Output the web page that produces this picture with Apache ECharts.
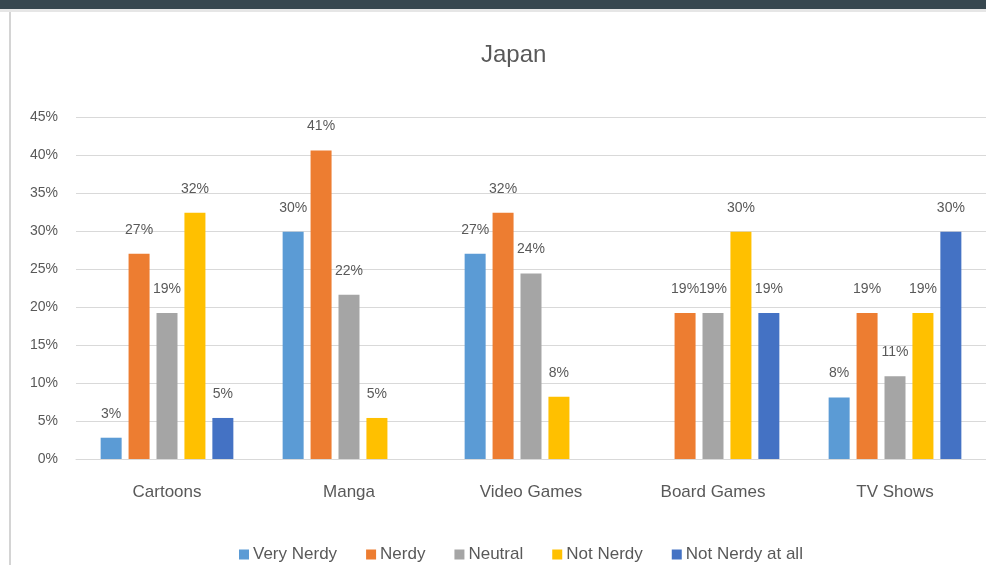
<!DOCTYPE html>
<html>
<head>
<meta charset="utf-8">
<script src="https://cdn.jsdelivr.net/npm/echarts@6/dist/echarts.min.js"></script>
<style>
  html, body { margin: 0; padding: 0; background: #fff; }
  #chart { width: 986px; height: 565px; }
</style>
</head>
<body>
<div id="chart"></div>
<script>
  // data (percent)
  const categories = ['Cartoons', 'Manga', 'Video Games', 'Board Games', 'TV Shows']
  const seriesNames = ['Very Nerdy', 'Nerdy', 'Neutral', 'Not Nerdy', 'Not Nerdy at all']
  const veryNerdy = [2.8, 29.9, 27.0, null, 8.1]
  const nerdy = [27.0, 40.6, 32.4, 19.2, 19.2]
  const neutral = [19.2, 21.6, 24.4, 19.2, 10.9]
  const notNerdy = [32.4, 5.4, 8.2, 29.9, 19.2]
  const notNerdyAtAll = [5.4, null, null, 19.2, 29.9]
  const yTicks = [0, 5, 10, 15, 20, 25, 30, 35, 40, 45]

  const colors = ['#5B9BD5', '#ED7D31', '#A5A5A5', '#FFC000', '#4472C4']
  const textColor = '#595959'
  const font = '"Liberation Sans", Arial, sans-serif'

  const values = [veryNerdy, nerdy, neutral, notNerdy, notNerdyAtAll]

  const chart = echarts.init(document.getElementById('chart'))
  const option = {
    backgroundColor: '#ffffff',
    textStyle: { fontFamily: font },
    title: {
      text: 'Japan',
      left: 476,
      top: 38,
      textStyle: { color: textColor, fontSize: 24, fontWeight: 'normal', fontFamily: font },
    },
    legend: {
      data: seriesNames,
      left: 234,
      top: 541,
      icon: 'rect',
      itemWidth: 10,
      itemHeight: 10,
      itemGap: 29,
      textStyle: { color: textColor, fontSize: 17, fontFamily: font, padding: [0, 0, 0, -1] },
    },
    grid: {
      left: 76,
      top: 117,
      width: 916,
      height: 342,
    },
    xAxis: {
      type: 'category',
      data: categories,
      axisTick: { show: false },
      axisLine: { lineStyle: { color: '#d9d9d9', width: 1 } },
      axisLabel: { color: textColor, fontSize: 17, margin: 25, fontFamily: font },
    },
    yAxis: {
      type: 'value',
      min: yTicks[0],
      max: yTicks[yTicks.length - 1],
      interval: 5,
      axisLine: { show: false },
      axisTick: { show: false },
      axisLabel: { color: textColor, fontSize: 14, margin: 18, formatter: '{value}%', fontFamily: font },
      splitLine: { lineStyle: { color: '#d9d9d9', width: 1 } },
    },
    series: seriesNames.map((name, i) => ({
      name: name,
      type: 'bar',
      barWidth: 21,
      barGap: '33%',
      itemStyle: { color: colors[i] },
      label: {
        show: true,
        position: 'top',
        distance: 17,
        color: textColor,
        fontSize: 14,
        fontFamily: font,
        formatter: p => Math.round(p.value) + '%',
      },
      data: values[i],
    })),
    graphic: [
      { type: 'rect', shape: { x: 0, y: 0, width: 986, height: 9 }, style: { fill: '#37474f' }, silent: true },
      { type: 'rect', shape: { x: 0, y: 9, width: 986, height: 3 }, style: { fill: '#e6e6e6' }, silent: true },
      { type: 'rect', shape: { x: 9, y: 12, width: 2, height: 553 }, style: { fill: '#d4d4d4' }, silent: true },
    ],
  }
  chart.setOption(option)
</script>
</body>
</html>
